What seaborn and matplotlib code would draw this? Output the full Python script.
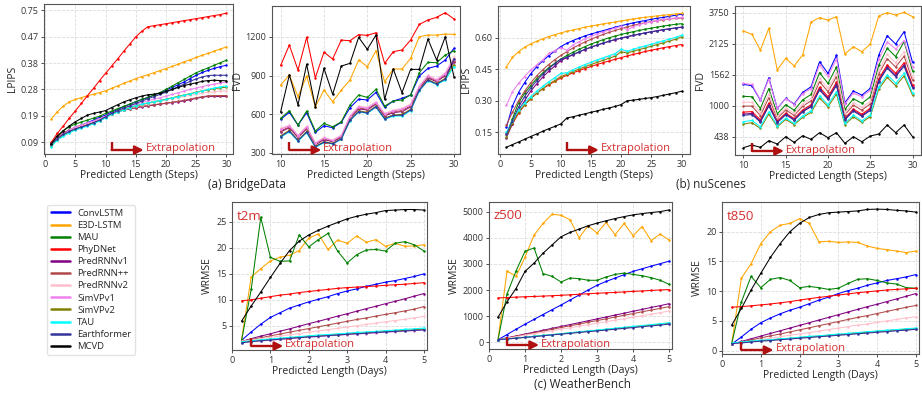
import numpy as np
import pandas as pd
import matplotlib
matplotlib.use("Agg")
import matplotlib.pyplot as plt
import matplotlib.transforms as mtransforms
from matplotlib.lines import Line2D
import seaborn as sns

# ---- models / colours ----
MODELS = ["ConvLSTM", "E3D-LSTM", "MAU", "PhyDNet", "PredRNNv1", "PredRNN++",
          "PredRNNv2", "SimVPv1", "SimVPv2", "TAU", "Earthformer", "MCVD"]
COLORS = ["blue", "orange", "green", "red", "purple", "#b04a4a",
          "pink", "violet", "olive", "cyan", "#333399", "black"]

STEPS = list(range(1, 31))
FVD_STEPS = list(range(10, 31))
DAYS = [0.25, 0.5, 0.75, 1.0, 1.25, 1.5, 1.75, 2.0, 2.25, 2.5,
        2.75, 3.0, 3.25, 3.5, 3.75, 4.0, 4.25, 4.5, 4.75, 5.0]

# ---- (a) BridgeData LPIPS ----
bridge_lpips = {
    "ConvLSTM": [0.084, 0.106, 0.122, 0.134, 0.144, 0.152, 0.161, 0.170, 0.180, 0.188, 0.199, 0.208, 0.218, 0.227, 0.236,
                 0.244, 0.251, 0.260, 0.268, 0.278, 0.287, 0.297, 0.307, 0.319, 0.331, 0.341, 0.349, 0.356, 0.362, 0.367],
    "E3D-LSTM": [0.174, 0.200, 0.220, 0.236, 0.244, 0.251, 0.257, 0.263, 0.269, 0.275, 0.284, 0.293, 0.302, 0.310, 0.319,
                 0.326, 0.333, 0.340, 0.348, 0.355, 0.363, 0.371, 0.379, 0.387, 0.395, 0.403, 0.410, 0.418, 0.425, 0.433],
    "MAU": [0.086, 0.110, 0.132, 0.146, 0.156, 0.163, 0.170, 0.177, 0.184, 0.194, 0.202, 0.211, 0.219, 0.227, 0.236,
            0.244, 0.251, 0.260, 0.269, 0.280, 0.292, 0.304, 0.316, 0.328, 0.340, 0.349, 0.358, 0.367, 0.376, 0.385],
    "PhyDNet": [0.090, 0.122, 0.149, 0.177, 0.203, 0.230, 0.258, 0.284, 0.312, 0.338, 0.364, 0.390, 0.417, 0.443, 0.469,
                0.527, 0.574, 0.585, 0.596, 0.606, 0.617, 0.628, 0.639, 0.649, 0.660, 0.671, 0.682, 0.693, 0.703, 0.718],
    "PredRNNv1": [0.084, 0.106, 0.122, 0.133, 0.142, 0.149, 0.155, 0.162, 0.170, 0.181, 0.193, 0.200, 0.205, 0.210, 0.214,
                  0.218, 0.221, 0.224, 0.227, 0.230, 0.233, 0.236, 0.239, 0.243, 0.248, 0.252, 0.255, 0.255, 0.255, 0.255],
    "PredRNN++": [0.086, 0.108, 0.124, 0.135, 0.143, 0.150, 0.156, 0.163, 0.171, 0.182, 0.194, 0.201, 0.206, 0.211, 0.215,
                  0.219, 0.222, 0.225, 0.228, 0.231, 0.234, 0.237, 0.241, 0.245, 0.250, 0.254, 0.257, 0.258, 0.258, 0.258],
    "PredRNNv2": [0.082, 0.104, 0.120, 0.132, 0.142, 0.150, 0.157, 0.164, 0.172, 0.182, 0.192, 0.200, 0.207, 0.213, 0.219,
                  0.224, 0.229, 0.234, 0.238, 0.243, 0.247, 0.251, 0.255, 0.259, 0.263, 0.267, 0.270, 0.272, 0.274, 0.275],
    "SimVPv1": [0.080, 0.104, 0.120, 0.134, 0.146, 0.153, 0.160, 0.167, 0.175, 0.184, 0.194, 0.203, 0.211, 0.219, 0.227,
                0.233, 0.239, 0.245, 0.250, 0.256, 0.262, 0.268, 0.274, 0.280, 0.285, 0.290, 0.295, 0.299, 0.303, 0.307],
    "SimVPv2": [0.078, 0.100, 0.116, 0.128, 0.138, 0.145, 0.152, 0.160, 0.168, 0.180, 0.192, 0.200, 0.207, 0.214, 0.221,
                0.226, 0.231, 0.236, 0.240, 0.245, 0.250, 0.255, 0.260, 0.265, 0.270, 0.275, 0.279, 0.283, 0.286, 0.288],
    "TAU": [0.074, 0.098, 0.112, 0.124, 0.134, 0.141, 0.148, 0.156, 0.166, 0.178, 0.190, 0.198, 0.206, 0.214, 0.222,
            0.227, 0.232, 0.236, 0.240, 0.244, 0.249, 0.254, 0.259, 0.264, 0.269, 0.274, 0.280, 0.285, 0.289, 0.292],
    "Earthformer": [0.084, 0.103, 0.119, 0.129, 0.138, 0.145, 0.152, 0.161, 0.170, 0.182, 0.194, 0.204, 0.213, 0.221, 0.230,
                    0.238, 0.247, 0.254, 0.262, 0.270, 0.280, 0.290, 0.299, 0.309, 0.318, 0.325, 0.330, 0.331, 0.331, 0.331],
    "MCVD": [0.084, 0.113, 0.132, 0.149, 0.164, 0.176, 0.188, 0.194, 0.199, 0.204, 0.215, 0.225, 0.235, 0.243, 0.250,
             0.256, 0.261, 0.263, 0.266, 0.273, 0.280, 0.287, 0.294, 0.299, 0.304, 0.309, 0.312, 0.313, 0.312, 0.311],
}

# ---- (a) BridgeData FVD ----
bridge_fvd = {
    "ConvLSTM": [559, 614, 515, 611, 458, 510, 494, 536, 650, 717, 710, 769, 653, 702, 723, 749, 896, 956, 974, 1021, 1112],
    "E3D-LSTM": [826, 904, 736, 896, 658, 787, 697, 787, 865, 1021, 969, 1093, 852, 951, 951, 1034, 1202, 1215, 1215, 1223, 1220],
    "MAU": [567, 627, 515, 624, 469, 528, 502, 541, 671, 749, 730, 793, 663, 702, 710, 749, 922, 1003, 1000, 1060, 1093],
    "PhyDNet": [979, 1137, 943, 1197, 883, 1081, 1029, 1176, 1171, 1218, 1213, 1233, 995, 1086, 1099, 1176, 1298, 1332, 1353, 1389, 1340],
    "PredRNNv1": [462, 494, 418, 486, 362, 402, 386, 420, 569, 642, 632, 678, 586, 612, 620, 656, 800, 882, 852, 900, 1005],
    "PredRNN++": [470, 500, 424, 492, 366, 408, 390, 426, 574, 648, 638, 684, 592, 618, 628, 664, 806, 888, 858, 906, 1015],
    "PredRNNv2": [489, 515, 437, 507, 378, 419, 399, 437, 585, 663, 653, 697, 606, 632, 645, 679, 819, 904, 870, 922, 1047],
    "SimVPv1": [482, 508, 432, 500, 372, 414, 394, 432, 580, 656, 646, 690, 600, 626, 638, 672, 812, 897, 864, 915, 1030],
    "SimVPv2": [432, 474, 398, 466, 350, 386, 374, 410, 556, 625, 615, 662, 568, 594, 598, 638, 788, 868, 838, 878, 985],
    "TAU": [419, 463, 388, 456, 341, 378, 367, 404, 549, 616, 606, 653, 559, 585, 585, 627, 782, 860, 829, 865, 969],
    "Earthformer": [425, 468, 394, 460, 346, 382, 370, 407, 552, 620, 610, 658, 564, 590, 592, 632, 785, 864, 834, 872, 1030],
    "MCVD": [619, 904, 671, 987, 658, 956, 754, 974, 995, 1197, 1104, 1215, 715, 951, 767, 948, 948, 1184, 1021, 1202, 891],
}

# ---- (b) nuScenes LPIPS ----
nusc_lpips = {
    "ConvLSTM": [0.174, 0.275, 0.339, 0.386, 0.427, 0.462, 0.489, 0.514, 0.536, 0.557, 0.573, 0.586, 0.597, 0.608, 0.617,
                 0.625, 0.633, 0.641, 0.649, 0.657, 0.663, 0.670, 0.676, 0.681, 0.687, 0.692, 0.696, 0.701, 0.706, 0.711],
    "E3D-LSTM": [0.462, 0.506, 0.533, 0.554, 0.570, 0.582, 0.594, 0.605, 0.614, 0.622, 0.630, 0.636, 0.643, 0.649, 0.655,
                 0.660, 0.665, 0.670, 0.674, 0.679, 0.684, 0.689, 0.693, 0.696, 0.700, 0.703, 0.706, 0.709, 0.712, 0.715],
    "MAU": [0.140, 0.215, 0.290, 0.335, 0.372, 0.405, 0.432, 0.457, 0.478, 0.498, 0.515, 0.530, 0.544, 0.557, 0.569,
            0.580, 0.590, 0.599, 0.607, 0.615, 0.622, 0.628, 0.634, 0.640, 0.645, 0.650, 0.655, 0.659, 0.663, 0.666],
    "PhyDNet": [0.140, 0.190, 0.240, 0.280, 0.310, 0.335, 0.357, 0.375, 0.392, 0.408, 0.421, 0.432, 0.443, 0.453, 0.463,
                0.472, 0.481, 0.489, 0.497, 0.505, 0.513, 0.520, 0.527, 0.534, 0.540, 0.546, 0.552, 0.557, 0.562, 0.567],
    "PredRNNv1": [0.125, 0.190, 0.255, 0.300, 0.345, 0.380, 0.412, 0.440, 0.465, 0.490, 0.505, 0.518, 0.531, 0.543, 0.554,
                  0.564, 0.573, 0.582, 0.590, 0.597, 0.604, 0.610, 0.616, 0.622, 0.627, 0.632, 0.637, 0.641, 0.645, 0.649],
    "PredRNN++": [0.185, 0.245, 0.300, 0.345, 0.385, 0.418, 0.447, 0.472, 0.495, 0.515, 0.533, 0.550, 0.565, 0.579, 0.592,
                  0.604, 0.615, 0.625, 0.634, 0.643, 0.651, 0.658, 0.665, 0.671, 0.676, 0.681, 0.685, 0.688, 0.691, 0.693],
    "PredRNNv2": [0.140, 0.200, 0.250, 0.287, 0.317, 0.342, 0.365, 0.386, 0.405, 0.424, 0.430, 0.443, 0.455, 0.467, 0.478,
                  0.489, 0.499, 0.509, 0.519, 0.540, 0.531, 0.540, 0.548, 0.556, 0.564, 0.572, 0.580, 0.588, 0.596, 0.607],
    "SimVPv1": [0.280, 0.343, 0.383, 0.415, 0.446, 0.470, 0.494, 0.525, 0.538, 0.552, 0.540, 0.565, 0.580, 0.594, 0.606,
                0.617, 0.627, 0.636, 0.645, 0.653, 0.636, 0.652, 0.662, 0.669, 0.675, 0.681, 0.686, 0.690, 0.693, 0.696],
    "SimVPv2": [0.130, 0.195, 0.245, 0.280, 0.310, 0.335, 0.358, 0.378, 0.396, 0.415, 0.425, 0.438, 0.450, 0.461, 0.472,
                0.482, 0.492, 0.502, 0.512, 0.532, 0.527, 0.535, 0.543, 0.551, 0.559, 0.567, 0.575, 0.583, 0.592, 0.603],
    "TAU": [0.150, 0.205, 0.255, 0.290, 0.320, 0.345, 0.368, 0.390, 0.410, 0.430, 0.433, 0.447, 0.460, 0.472, 0.483,
            0.494, 0.504, 0.514, 0.524, 0.545, 0.535, 0.545, 0.553, 0.561, 0.569, 0.577, 0.585, 0.593, 0.601, 0.612],
    "Earthformer": [0.140, 0.205, 0.270, 0.320, 0.360, 0.395, 0.425, 0.452, 0.476, 0.497, 0.507, 0.520, 0.532, 0.544, 0.555,
                    0.565, 0.574, 0.583, 0.591, 0.598, 0.605, 0.611, 0.617, 0.623, 0.628, 0.633, 0.638, 0.642, 0.646, 0.650],
    "MCVD": [0.079, 0.092, 0.104, 0.117, 0.130, 0.142, 0.155, 0.167, 0.178, 0.190, 0.218, 0.224, 0.231, 0.238, 0.245,
             0.252, 0.259, 0.266, 0.273, 0.282, 0.300, 0.303, 0.307, 0.311, 0.315, 0.320, 0.326, 0.332, 0.338, 0.345],
}

# ---- (b) nuScenes FVD ----
nusc_fvd = {
    "ConvLSTM": [1387, 1363, 1103, 1508, 952, 1133, 1030, 1242, 1344, 1798, 1586, 1913, 1054, 1266, 1193, 1314, 1919, 2544, 2119, 2754, 1786],
    "E3D-LSTM": [2789, 2614, 2010, 2929, 1649, 1860, 1721, 1921, 3261, 3488, 3365, 3540, 1939, 2071, 1980, 2119, 3575, 3750, 3627, 3767, 3540],
    "MAU": [1171, 1162, 949, 1310, 852, 1019, 918, 1106, 1204, 1600, 1405, 1702, 935, 1126, 1044, 1160, 1734, 2042, 1892, 2230, 1630],
    "PhyDNet": [884, 893, 743, 1047, 719, 866, 768, 924, 1018, 1337, 1163, 1422, 775, 940, 846, 955, 1487, 1740, 1590, 1779, 1371],
    "PredRNNv1": [848, 860, 717, 1014, 702, 847, 749, 901, 995, 1304, 1133, 1386, 755, 917, 822, 929, 1456, 1702, 1552, 1739, 1341],
    "PredRNN++": [992, 994, 820, 1146, 769, 923, 824, 992, 1088, 1436, 1254, 1527, 835, 1010, 921, 1032, 1580, 1853, 1703, 1899, 1460],
    "PredRNNv2": [1063, 1061, 872, 1211, 802, 962, 862, 1038, 1135, 1501, 1314, 1597, 875, 1057, 970, 1083, 1641, 1931, 1779, 1980, 1519],
    "SimVPv1": [1405, 1385, 1110, 1480, 955, 1130, 1020, 1220, 1310, 1740, 1530, 1850, 1030, 1230, 1160, 1280, 1840, 2217, 2030, 2289, 1700],
    "SimVPv2": [668, 692, 589, 849, 619, 752, 656, 788, 879, 1139, 982, 1211, 656, 801, 698, 801, 1302, 1514, 1363, 1538, 1193],
    "TAU": [711, 732, 620, 889, 639, 775, 678, 815, 907, 1179, 1018, 1253, 680, 829, 728, 832, 1339, 1560, 1408, 1590, 1229],
    "Earthformer": [826, 840, 702, 994, 692, 836, 738, 888, 981, 1284, 1115, 1365, 744, 903, 807, 914, 1438, 1680, 1529, 1715, 1323],
    "MCVD": [239, 287, 245, 366, 305, 438, 335, 456, 390, 511, 420, 511, 317, 438, 347, 450, 486, 650, 511, 650, 438],
}

# ---- (c) WeatherBench t2m ----
t2m = {
    "ConvLSTM": [2.2, 3.8, 5.3, 6.6, 7.5, 8.4, 9.0, 9.6, 10.1, 10.6, 11.2, 11.7, 12.1, 12.6, 13.0, 13.4, 13.7, 14.1, 14.5, 15.0],
    "E3D-LSTM": [2.3, 14.4, 16.0, 17.5, 18.2, 18.6, 19.5, 21.9, 22.7, 19.7, 21.5, 20.9, 22.3, 21.1, 21.6, 20.3, 20.9, 20.3, 20.4, 20.6],
    "MAU": [2.2, 12.0, 25.9, 18.2, 17.4, 17.5, 22.5, 20.2, 21.6, 22.8, 19.4, 17.1, 18.7, 19.6, 19.7, 19.4, 20.9, 21.2, 20.6, 19.4],
    "PhyDNet": [9.8, 10.0, 10.3, 10.6, 10.9, 11.1, 11.4, 11.6, 11.8, 12.0, 12.2, 12.35, 12.45, 12.55, 12.65, 12.8, 12.9, 13.0, 13.15, 13.3],
    "PredRNNv1": [2.0, 2.5, 3.0, 3.45, 3.95, 4.4, 4.9, 5.4, 5.85, 6.35, 6.85, 7.3, 7.8, 8.3, 8.75, 9.25, 9.7, 10.2, 10.7, 11.2],
    "PredRNN++": [2.0, 2.35, 2.7, 3.05, 3.4, 3.75, 4.1, 4.45, 4.8, 5.15, 5.5, 5.85, 6.2, 6.5, 6.85, 7.2, 7.5, 7.85, 8.2, 8.7],
    "PredRNNv2": [2.0, 2.25, 2.5, 2.75, 3.0, 3.25, 3.5, 3.75, 4.0, 4.25, 4.5, 4.75, 5.0, 5.25, 5.5, 5.75, 6.0, 6.25, 6.5, 6.8],
    "SimVPv1": [1.7, 1.9, 2.05, 2.2, 2.35, 2.5, 2.65, 2.8, 2.9, 3.05, 3.15, 3.3, 3.4, 3.5, 3.6, 3.75, 3.85, 3.95, 4.05, 4.15],
    "SimVPv2": [1.8, 2.0, 2.2, 2.35, 2.5, 2.65, 2.8, 2.95, 3.05, 3.2, 3.3, 3.45, 3.55, 3.65, 3.8, 3.9, 4.0, 4.1, 4.25, 4.35],
    "TAU": [1.9, 2.1, 2.3, 2.45, 2.6, 2.75, 2.9, 3.05, 3.2, 3.3, 3.45, 3.55, 3.7, 3.8, 3.9, 4.05, 4.15, 4.3, 4.4, 4.55],
    "Earthformer": [1.7, 1.95, 2.1, 2.25, 2.4, 2.55, 2.7, 2.85, 2.95, 3.1, 3.2, 3.35, 3.45, 3.55, 3.7, 3.8, 3.9, 4.0, 4.1, 4.2],
    "MCVD": [5.9, 8.8, 11.5, 14.3, 17.0, 19.5, 21.3, 22.5, 23.4, 24.2, 24.9, 25.6, 26.1, 26.5, 26.8, 27.2, 27.3, 27.4, 27.4, 27.3],
}

# ---- (c) WeatherBench z500 ----
z500 = {
    "ConvLSTM": [100, 300, 500, 695, 880, 1065, 1250, 1430, 1620, 1810, 2000, 2185, 2330, 2460, 2590, 2715, 2815, 2915, 3010, 3105],
    "E3D-LSTM": [100, 2730, 2525, 3260, 4100, 4550, 4900, 4860, 4690, 4000, 4460, 4180, 4585, 4120, 4550, 4080, 4430, 3890, 4140, 3915],
    "MAU": [100, 1845, 2730, 3485, 3610, 2630, 2525, 2310, 2460, 2440, 2375, 2375, 2500, 2600, 2650, 2600, 2550, 2475, 2375, 2220],
    "PhyDNet": [1700, 1715, 1730, 1745, 1755, 1770, 1785, 1800, 1820, 1840, 1860, 1880, 1895, 1910, 1930, 1950, 1965, 1985, 2005, 2020],
    "PredRNNv1": [100, 175, 245, 320, 390, 465, 535, 610, 680, 755, 825, 900, 970, 1045, 1115, 1190, 1260, 1335, 1405, 1480],
    "PredRNN++": [100, 165, 235, 300, 365, 435, 500, 570, 635, 700, 770, 835, 900, 970, 1035, 1100, 1170, 1235, 1300, 1370],
    "PredRNNv2": [100, 160, 215, 275, 330, 390, 445, 505, 560, 620, 675, 735, 790, 850, 905, 965, 1020, 1080, 1135, 1200],
    "SimVPv1": [100, 130, 160, 195, 225, 260, 290, 325, 355, 390, 420, 455, 485, 520, 550, 590, 620, 655, 685, 720],
    "SimVPv2": [100, 130, 165, 195, 230, 265, 295, 330, 365, 395, 430, 460, 495, 530, 560, 595, 630, 660, 695, 730],
    "TAU": [100, 130, 165, 200, 235, 270, 300, 335, 370, 405, 440, 470, 505, 540, 575, 610, 645, 680, 715, 750],
    "Earthformer": [100, 130, 160, 190, 220, 255, 285, 315, 345, 380, 410, 440, 470, 505, 535, 565, 600, 630, 660, 700],
    "MCVD": [960, 1553, 2060, 2715, 3030, 3410, 3725, 4040, 4205, 4330, 4460, 4560, 4650, 4735, 4810, 4875, 4925, 4965, 5000, 5065],
}

# ---- (c) WeatherBench t850 ----
t850 = {
    "ConvLSTM": [1.1, 2.3, 3.6, 4.7, 5.5, 6.2, 6.8, 7.3, 7.9, 8.5, 9.0, 9.6, 10.1, 10.5, 11.0, 11.4, 11.8, 12.1, 12.4, 12.8],
    "E3D-LSTM": [1.2, 12.2, 14.6, 18.0, 20.0, 21.1, 21.4, 22.2, 21.4, 18.3, 18.4, 18.2, 18.3, 18.2, 17.6, 17.2, 17.0, 16.75, 16.5, 16.75],
    "MAU": [1.2, 8.2, 12.5, 10.6, 12.0, 12.3, 11.8, 10.6, 10.8, 10.6, 10.3, 10.5, 11.3, 12.0, 12.1, 11.8, 11.4, 11.2, 10.6, 10.5],
    "PhyDNet": [7.3, 7.4, 7.55, 7.7, 7.85, 8.05, 8.25, 8.5, 8.75, 8.95, 9.15, 9.35, 9.55, 9.75, 9.9, 10.05, 10.2, 10.3, 10.4, 10.5],
    "PredRNNv1": [1.1, 1.55, 2.0, 2.45, 2.9, 3.35, 3.8, 4.25, 4.7, 5.15, 5.6, 6.05, 6.5, 6.95, 7.4, 7.8, 8.25, 8.7, 9.15, 9.6],
    "PredRNN++": [1.1, 1.45, 1.8, 2.15, 2.5, 2.8, 3.15, 3.5, 3.85, 4.2, 4.55, 4.9, 5.25, 5.6, 5.9, 6.25, 6.6, 6.95, 7.3, 7.6],
    "PredRNNv2": [1.1, 1.35, 1.6, 1.85, 2.1, 2.35, 2.6, 2.8, 3.05, 3.3, 3.55, 3.8, 4.05, 4.3, 4.5, 4.75, 5.0, 5.25, 5.5, 5.7],
    "SimVPv1": [1.2, 1.35, 1.5, 1.65, 1.75, 1.9, 2.0, 2.15, 2.3, 2.4, 2.55, 2.65, 2.8, 2.9, 3.05, 3.15, 3.3, 3.4, 3.5, 3.6],
    "SimVPv2": [1.3, 1.4, 1.55, 1.7, 1.8, 1.95, 2.05, 2.2, 2.35, 2.45, 2.6, 2.7, 2.85, 3.0, 3.1, 3.25, 3.35, 3.5, 3.6, 3.7],
    "TAU": [1.3, 1.45, 1.6, 1.75, 1.85, 2.0, 2.1, 2.25, 2.4, 2.5, 2.65, 2.8, 2.9, 3.05, 3.2, 3.3, 3.45, 3.55, 3.7, 3.8],
    "Earthformer": [1.2, 1.3, 1.45, 1.6, 1.7, 1.85, 1.95, 2.1, 2.2, 2.35, 2.45, 2.6, 2.7, 2.85, 2.95, 3.1, 3.2, 3.35, 3.45, 3.6],
    "MCVD": [4.3, 7.1, 10.2, 13.0, 15.7, 18.0, 20.0, 21.4, 22.4, 22.9, 23.2, 23.3, 23.4, 23.5, 23.75, 23.8, 23.75, 23.6, 23.5, 23.3],
}

RED_TEXT = "#d42f2f"
DARK_RED = "#b0100f"

sns.set_style("ticks")
plt.rcParams["font.family"] = ["Open Sans", "DejaVu Sans"]

W, H = 922, 396
fig = plt.figure(figsize=(W / 100, H / 100), dpi=100)


def add_ax(left, top, right, bottom):
    return fig.add_axes([left / W, 1 - bottom / H, (right - left) / W, (bottom - top) / H])


def compressed(brk, k):
    # linear below brk, squeezed by factor k above it
    def fwd(v):
        v = np.asarray(v, dtype=float)
        return np.where(v <= brk, v, brk + (v - brk) * k)

    def inv(t):
        t = np.asarray(t, dtype=float)
        return np.where(t <= brk, t, brk + (t - brk) / k)
    return fwd, inv


def draw(ax, x, data, xlabel, ylabel):
    df = pd.DataFrame([(m, xi, yi) for m in MODELS for xi, yi in zip(x, data[m])],
                      columns=["model", "x", "y"])
    sns.lineplot(data=df, x="x", y="y", hue="model", hue_order=MODELS,
                 palette=dict(zip(MODELS, COLORS)), estimator=None, sort=False,
                 marker="o", markersize=1.8, markeredgewidth=0, linewidth=0.75,
                 legend=False, ax=ax)
    ax.set_xlabel(xlabel, fontsize=7.5, labelpad=1)
    ax.set_ylabel(ylabel, fontsize=7.5, labelpad=2)
    ax.grid(True, color="#dcdcdc", lw=0.6, ls="--")
    ax.tick_params(labelsize=6.5, length=2.5, width=0.6, pad=1.5, colors="#333333")
    for s in ax.spines.values():
        s.set_color("#555555")
        s.set_linewidth(0.8)


def extrapolation(ax, x0):
    trans = mtransforms.blended_transform_factory(ax.transData, ax.transAxes)
    h = ax.get_position().height * H
    y0 = 4.0 / h
    ax.plot([x0, x0], [y0, y0 + 8.0 / h], transform=trans, color=DARK_RED, lw=1.7,
            solid_capstyle="butt", clip_on=False)
    ax.annotate("", xy=(x0, y0), xycoords=trans, xytext=(32, 0), textcoords="offset pixels",
                arrowprops=dict(arrowstyle="<|-,head_length=0.5,head_width=0.25",
                                color=DARK_RED, lw=1.7, shrinkA=0, shrinkB=0))
    ax.annotate("Extrapolation", xy=(x0, y0), xycoords=trans, xytext=(34, 1),
                textcoords="offset pixels", color=RED_TEXT, fontsize=8,
                va="center", ha="left")


# ---- top row ----
ax1 = add_ax(44, 4, 233, 154)
draw(ax1, STEPS, bridge_lpips, "Predicted Length (Steps)", "LPIPS")
ax1.set_yscale("function", functions=compressed(0.47, 0.095 / 0.28))
ax1.set_yticks([0.09, 0.185, 0.28, 0.375, 0.47, 0.75],
               labels=["0.09", "0.19", "0.28", "0.38", "0.47", "0.75"])
ax1.set_xticks([0, 5, 10, 15, 20, 25, 30])
ax1.set_xlim(-0.2, 31.1)
ax1.set_ylim(0.048, 0.815)
extrapolation(ax1, 11)

ax2 = add_ax(272, 6, 460, 154)
draw(ax2, FVD_STEPS, bridge_fvd, "Predicted Length (Steps)", "FVD")
ax2.set_yticks([300, 600, 900, 1200])
ax2.set_xticks([10, 15, 20, 25, 30])
ax2.set_xlim(9.0, 30.7)
ax2.set_ylim(290, 1441)
extrapolation(ax2, 11)

ax3 = add_ax(498, 6, 690, 154)
draw(ax3, STEPS, nusc_lpips, "Predicted Length (Steps)", "LPIPS")
ax3.set_yticks([0.15, 0.30, 0.45, 0.60], labels=["0.15", "0.30", "0.45", "0.60"])
ax3.set_xticks([0, 5, 10, 15, 20, 25, 30])
ax3.set_xlim(-0.4, 31.4)
ax3.set_ylim(0.047, 0.750)
extrapolation(ax3, 11)

ax4 = add_ax(735, 6, 921, 155)
draw(ax4, FVD_STEPS, nusc_fvd, "Predicted Length (Steps)", "FVD")
ax4.set_yscale("function", functions=compressed(2125.5, 562.5 / 1624.5))
ax4.set_yticks([438, 1000.5, 1563, 2125.5, 3750],
               labels=["438", "1000", "1562", "2125", "3750"])
ax4.set_xticks([10, 15, 20, 25, 30])
ax4.set_xlim(9.0, 31.0)
ax4.set_ylim(106, 4099)
extrapolation(ax4, 11)

# ---- bottom row ----
weather = [
    (add_ax(232, 202, 427, 350), t2m, "t2m", [5, 10, 15, 20, 25], (0.32, 28.85)),
    (add_ax(489, 202, 672, 349), z500, "z500", [0, 1000, 2000, 3000, 4000, 5000], (-253, 5368)),
    (add_ax(722, 202, 919, 354), t850, "t850", [0, 5, 10, 15, 20], (-0.56, 25.0)),
]
for ax, data, name, yt, yl in weather:
    draw(ax, DAYS, data, "Predicted Length (Days)", "WRMSE")
    ax.set_yticks(yt)
    ax.set_xticks([0, 1, 2, 3, 4, 5])
    ax.set_xlim(0, 5.08)
    ax.set_ylim(*yl)
    ax.text(0.025, 0.905, name, transform=ax.transAxes, color=RED_TEXT,
            fontsize=9.5, ha="left", va="center")
    extrapolation(ax, 0.5)

# ---- legend ----
handles = [Line2D([0], [0], color=c, lw=1.8) for c in COLORS]
fig.legend(handles, MODELS, loc="upper left", bbox_to_anchor=(47 / W, 1 - 205 / H),
           fontsize=6.8, frameon=True, handlelength=2.0, labelspacing=0.33,
           borderpad=0.4, handletextpad=0.8, borderaxespad=0, edgecolor="#dddddd")

# ---- captions ----
fig.text(247 / W, 1 - 185 / H, "(a) BridgeData", ha="center", va="center", fontsize=8.5)
fig.text(711 / W, 1 - 185 / H, "(b) nuScenes", ha="center", va="center", fontsize=8.5)
fig.text(582 / W, 1 - 384 / H, "(c) WeatherBench", ha="center", va="center", fontsize=8.5)

fig.savefig("out.png", dpi=100)
